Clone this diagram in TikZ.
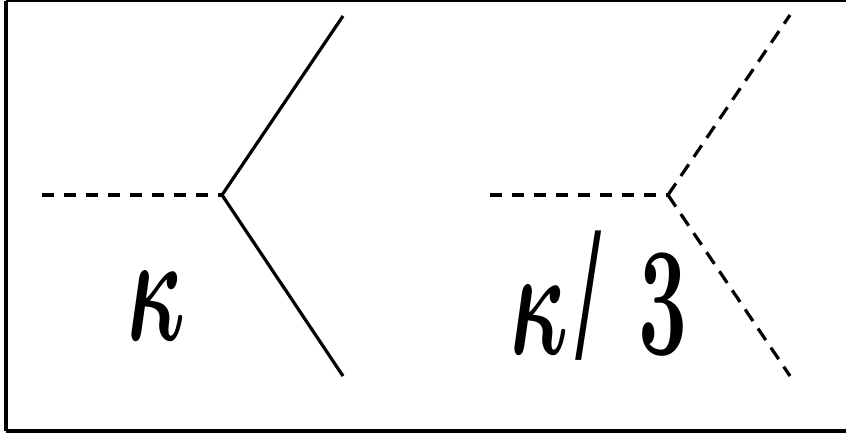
\documentclass[tikz,border=0pt]{standalone}
\usepackage{graphicx}
\usepackage{fontspec}
\setmainfont{Liberation Serif}
\newfontfamily\lblfont{Liberation Serif}
\begin{document}
\begin{tikzpicture}[x=1pt,y=-1pt,
  solidleg/.style={line width=3.2pt},
  dashleg/.style={line width=3.2pt,dash pattern=on 14pt off 9pt},
  dashprop/.style={line width=3.8pt,dash pattern=on 12pt off 10pt},
  lbl/.style={inner sep=0pt,font=\fontsize{24.88}{24.88}\selectfont\boldmath,xscale=3.5,yscale=6.23}]
\useasboundingbox (0,0) rectangle (846,434);
% frame
\coordinate (ftl) at (6,0.8);
\coordinate (ftr) at (846,0.8);
\coordinate (fbl) at (6,431);
\coordinate (fbr) at (846,431);
\draw[line width=1.6pt] (ftl) -- (ftr);
\draw[line width=3.2pt] (ftl) -- (fbl);
\draw[line width=4pt] (fbl) -- (fbr);
% left vertex
\coordinate (v1) at (222,195);
\coordinate (a1) at (42,195);
\coordinate (u1) at (343,16);
\coordinate (d1) at (343,376);
\draw[dashprop] (a1) -- (v1);
\draw[solidleg] (u1) -- (v1) -- (d1);
\node[lbl,anchor=base west] (k1) at (127,340) {$\kappa$};
% right vertex
\coordinate (v2) at (668,195);
\coordinate (a2) at (490,195);
\coordinate (u2) at (790,15);
\coordinate (d2) at (790,376);
\draw[dashprop] (a2) -- (v2);
\draw[dashleg] (v2) -- (u2);
\draw[dashleg] (v2) -- (d2);
\node[lbl,anchor=base west] (k2) at (510,354) {$\kappa$\kern2.3pt\raisebox{-0.8pt}{\scalebox{1}[1.25]{\lblfont\bfseries/}}\kern10.6pt$3$};
\end{tikzpicture}
\end{document}
